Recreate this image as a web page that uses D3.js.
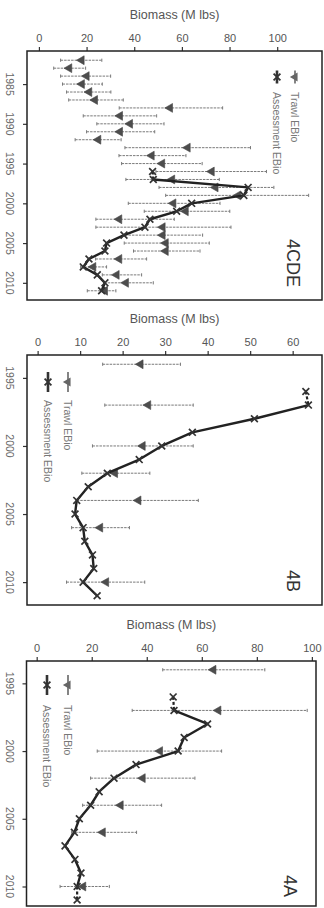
<!DOCTYPE html>
<html>
<head>
<meta charset="utf-8">
<script src="https://cdn.jsdelivr.net/npm/d3@7"></script>
<style>
  html, body { margin: 0; padding: 0; background: #fff; }
  svg { display: block; }
</style>
</head>
<body>
<script>
// ---- Area 4CDE ----
const cdeTrawlYears = [1982, 1983, 1984, 1985, 1986, 1987, 1988, 1989, 1990, 1991, 1992, 1993, 1994, 1995, 1996,
                       1997, 1998, 1999, 2000, 2001, 2002, 2003, 2004, 2005, 2006, 2007, 2008, 2009, 2010, 2011];
const cdeTrawlEst  = [17.9, 12.7, 20.0, 18.0, 21.1, 23.5, 55.0, 34.0, 38.2, 34.0, 24.9, 62.4, 47.3, 51.7, 72.5,
                      55.9, 74.1, 83.6, 56.4, 61.6, 33.7, 51.9, 51.9, 53.2, 53.2, 33.7, 22.8, 32.6, 36.5, 27.7];
const cdeTrawlLow  = [9.1, 6.2, 9.1, 9.9, 11.6, 12.5, 33.7, 18.6, 24.3, 20.0, 15.2, 36.1, 33.6, 34.7, 49.1,
                      36.5, 50.4, 53.2, 37.5, 44.2, 23.9, 23.9, 36.1, 35.8, 39.7, 23.8, 17.5, 26.6, 27.4, 20.3];
const cdeTrawlHigh = [26.4, 19.6, 30.1, 26.6, 30.2, 35.4, 77.1, 49.4, 52.5, 48.6, 34.5, 88.8, 61.7, 68.5, 95.5,
                      75.7, 98.6, 113.2, 76.0, 80.1, 56.8, 80.6, 68.7, 71.5, 67.6, 45.2, 28.4, 43.1, 48.0, 32.3];
const cdeAssessYears = [1996, 1997, 1998, 1999, 2000, 2001, 2002, 2003, 2004, 2005, 2006, 2007, 2008, 2009, 2010, 2011];
const cdeAssessEst   = [47.7, 48.0, 87.8, 86.0, 64.1, 57.8, 46.6, 44.5, 35.7, 28.4, 27.7, 21.0, 18.6, 24.5, 27.7, 26.3];

// ---- Area 4B ----
const bTrawlYears = [1994, 1997, 2000, 2002, 2004, 2006, 2010];
const bTrawlEst   = [24.2, 26.0, 24.7, 18.2, 23.7, 14.7, 16.1];
const bTrawlLow   = [15.3, 15.8, 12.9, 10.4, 9.2, 8.0, 6.8];
const bTrawlHigh  = [33.6, 36.6, 36.6, 26.4, 37.8, 21.6, 25.2];
const bAssessYears = [1996, 1997, 1998, 1999, 2000, 2001, 2002, 2003, 2004, 2005, 2006, 2007, 2008, 2009, 2010, 2011];
const bAssessEst   = [63.1, 63.7, 51.0, 36.4, 29.2, 23.9, 16.4, 11.9, 9.2, 8.8, 10.7, 11.1, 12.9, 13.2, 10.7, 14.0];

// ---- Area 4A ----
const aTrawlYears = [1994, 1997, 2000, 2002, 2004, 2006, 2010];
const aTrawlEst   = [64.2, 66.0, 44.8, 38.5, 30.5, 24.0, 16.9];
const aTrawlLow   = [45.8, 34.7, 22.0, 19.6, 16.7, 12.7, 8.5];
const aTrawlHigh  = [82.9, 98.3, 67.2, 57.5, 45.4, 36.3, 26.4];
const aAssessYears = [1996, 1997, 1998, 1999, 2000, 2001, 2002, 2003, 2004, 2005, 2006, 2007, 2008, 2009, 2010, 2011];
const aAssessEst   = [49.6, 49.9, 62.1, 53.6, 51.4, 36.1, 28.1, 22.7, 19.6, 15.5, 13.7, 10.3, 13.9, 16.1, 14.7, 14.7];

// ---- Axis ticks and labels ----
const cdeBiomassTicks = [0, 20, 40, 60, 80, 100];
const bBiomassTicks   = [0, 10, 20, 30, 40, 50, 60];
const aBiomassTicks   = [0, 20, 40, 60, 80, 100];
const cdeYearTicks = [1985, 1990, 1995, 2000, 2005, 2010];
const bYearTicks   = [1995, 2000, 2005, 2010];
const aYearTicks   = [1995, 2000, 2005, 2010];
const panelNames = ["4CDE", "4B", "4A"];
const axisTitle = "Biomass (M lbs)";
const legendNames = ["Trawl EBio", "Assessment EBio"];

const W = 324, H = 908;
const FONT = "'Liberation Sans', Arial, Helvetica, sans-serif";

const panels = [
  {
    name: panelNames[0],
    frame: { x0: 27, x1: 322, y0: 51, y1: 300 },
    xDomain: [-5, 118.8], yDomain: [1980.84, 2012.16],
    xTicks: cdeBiomassTicks, yTicks: cdeYearTicks,
    trawl: { years: cdeTrawlYears, est: cdeTrawlEst, low: cdeTrawlLow, high: cdeTrawlHigh },
    assess: { years: cdeAssessYears, est: cdeAssessEst },
    legend: { xTrawl: 295, xAssess: 277, cy: 77, len: 13, textY: 92 },
    label: { x: 293, y: 263 },
    dashLast: false
  },
  {
    name: panelNames[1],
    frame: { x0: 27, x1: 322, y0: 355, y1: 605 },
    xDomain: [-2.5, 66.9], yDomain: [1993.32, 2011.68],
    xTicks: bBiomassTicks, yTicks: bYearTicks,
    trawl: { years: bTrawlYears, est: bTrawlEst, low: bTrawlLow, high: bTrawlHigh },
    assess: { years: bAssessYears, est: bAssessEst },
    legend: { xTrawl: 68, xAssess: 48, cy: 382, len: 20, textY: 400 },
    label: { x: 293, y: 581 },
    dashLast: false
  },
  {
    name: panelNames[2],
    frame: { x0: 26.5, x1: 316, y0: 661, y1: 906 },
    xDomain: [-3.7, 101.5], yDomain: [1993.35, 2011.44],
    xTicks: aBiomassTicks, yTicks: aYearTicks,
    trawl: { years: aTrawlYears, est: aTrawlEst, low: aTrawlLow, high: aTrawlHigh },
    assess: { years: aAssessYears, est: aAssessEst },
    legend: { xTrawl: 68, xAssess: 47, cy: 685, len: 20, textY: 705 },
    label: { x: 290, y: 886 },
    dashLast: true
  }
];

const svg = d3.select("body").append("svg")
  .attr("width", W).attr("height", H)
  .attr("viewBox", `0 0 ${W} ${H}`);

svg.append("rect").attr("width", W).attr("height", H).attr("fill", "#fff");

const triangle = d3.symbol().type(d3.symbolTriangle).size(34);
const cross = d3.symbol().type(d3.symbolX).size(32);

panels.forEach(p => {
  const f = p.frame;
  const x = d3.scaleLinear().domain(p.xDomain).range([f.x0, f.x1]);
  const y = d3.scaleLinear().domain(p.yDomain).range([f.y0, f.y1]);
  const g = svg.append("g");

  // Biomass axis along the top
  const xAxis = d3.axisTop(x).tickValues(p.xTicks).tickSize(4).tickPadding(5).tickFormat(d3.format("d"));
  const gx = g.append("g").attr("transform", `translate(0,${f.y0})`).call(xAxis);
  gx.select(".domain").remove();
  gx.selectAll(".tick line").attr("stroke", "#333").attr("stroke-width", 1.2);
  gx.selectAll(".tick text")
    .attr("font-family", FONT).attr("font-size", 11).attr("fill", "#555");

  g.append("text")
    .attr("x", (f.x0 + f.x1) / 2).attr("y", f.y0 - 36)
    .attr("text-anchor", "middle").attr("dominant-baseline", "central")
    .attr("font-family", FONT).attr("font-size", 12.5).attr("fill", "#555")
    .text(axisTitle);

  // Year axis along the left, labels running downward
  const yAxis = d3.axisLeft(y).tickValues(p.yTicks).tickSize(4).tickFormat("");
  const gy = g.append("g").attr("transform", `translate(${f.x0},0)`).call(yAxis);
  gy.select(".domain").remove();
  gy.selectAll(".tick line").attr("stroke", "#333").attr("stroke-width", 1.2);
  g.selectAll("text.year").data(p.yTicks).join("text")
    .attr("class", "year")
    .attr("transform", d => `translate(10,${y(d)}) rotate(90)`)
    .attr("text-anchor", "middle").attr("dominant-baseline", "central")
    .attr("font-family", FONT).attr("font-size", 10.5).attr("fill", "#666")
    .text(d => d);

  // Trawl survey estimates with intervals
  const t = p.trawl;
  const rows = t.years.map((yr, i) => ({ yr, est: t.est[i], low: t.low[i], high: t.high[i] }));
  const eb = g.append("g").attr("stroke", "#7a7a7a").attr("stroke-width", 1);
  eb.selectAll("line.bar").data(rows).join("line")
    .attr("class", "bar")
    .attr("x1", d => x(d.low)).attr("x2", d => x(d.high))
    .attr("y1", d => y(d.yr)).attr("y2", d => y(d.yr))
    .attr("stroke-dasharray", "2.5,1");
  eb.selectAll("line.capL").data(rows).join("line")
    .attr("class", "capL")
    .attr("x1", d => x(d.low)).attr("x2", d => x(d.low))
    .attr("y1", d => y(d.yr) - 1.6).attr("y2", d => y(d.yr) + 1.6);
  eb.selectAll("line.capR").data(rows).join("line")
    .attr("class", "capR")
    .attr("x1", d => x(d.high)).attr("x2", d => x(d.high))
    .attr("y1", d => y(d.yr) - 1.6).attr("y2", d => y(d.yr) + 1.6);
  g.selectAll("path.tri").data(rows).join("path")
    .attr("class", "tri")
    .attr("d", triangle)
    .attr("transform", d => `translate(${x(d.est)},${y(d.yr)}) rotate(-90)`)
    .attr("fill", "#4d4d4d").attr("stroke", "#444").attr("stroke-width", 0.6);

  // Assessment estimates
  const a = p.assess;
  const pts = a.years.map((yr, i) => ({ yr, est: a.est[i] }));
  const line = d3.line().x(d => x(d.est)).y(d => y(d.yr));
  const last = p.dashLast ? pts.length - 1 : pts.length;
  g.append("path").datum(pts.slice(1, last))
    .attr("d", line).attr("fill", "none")
    .attr("stroke", "#222").attr("stroke-width", 2.4).attr("stroke-linejoin", "round");
  g.append("path").datum(pts.slice(0, 2))
    .attr("d", line).attr("fill", "none")
    .attr("stroke", "#222").attr("stroke-width", 2.2).attr("stroke-dasharray", "3,2");
  if (p.dashLast) {
    g.append("path").datum(pts.slice(pts.length - 2))
      .attr("d", line).attr("fill", "none")
      .attr("stroke", "#222").attr("stroke-width", 2.2).attr("stroke-dasharray", "3,2");
  }
  g.selectAll("path.cross").data(pts).join("path")
    .attr("class", "cross")
    .attr("d", cross)
    .attr("transform", d => `translate(${x(d.est)},${y(d.yr)})`)
    .attr("fill", "none").attr("stroke", "#333").attr("stroke-width", 1.7);

  // Legend
  const L = p.legend;
  g.append("line")
    .attr("x1", L.xTrawl).attr("x2", L.xTrawl)
    .attr("y1", L.cy - L.len / 2).attr("y2", L.cy + L.len / 2)
    .attr("stroke", "#666").attr("stroke-width", 1.6);
  g.append("path").attr("d", triangle)
    .attr("transform", `translate(${L.xTrawl},${L.cy}) rotate(-90)`)
    .attr("fill", "#666");
  g.append("line")
    .attr("x1", L.xAssess).attr("x2", L.xAssess)
    .attr("y1", L.cy - L.len / 2).attr("y2", L.cy + L.len / 2)
    .attr("stroke", "#333").attr("stroke-width", 2.6);
  g.append("path").attr("d", cross)
    .attr("transform", `translate(${L.xAssess},${L.cy})`)
    .attr("fill", "none").attr("stroke", "#333").attr("stroke-width", 1.8);
  [[L.xTrawl, legendNames[0]], [L.xAssess, legendNames[1]]].forEach(([lx, txt]) => {
    g.append("text")
      .attr("transform", `translate(${lx},${L.textY}) rotate(90)`)
      .attr("text-anchor", "start").attr("dominant-baseline", "central")
      .attr("font-family", FONT).attr("font-size", 10.5).attr("fill", "#777")
      .text(txt);
  });

  // Area label
  g.append("text")
    .attr("transform", `translate(${p.label.x},${p.label.y}) rotate(90)`)
    .attr("text-anchor", "middle").attr("dominant-baseline", "central")
    .attr("font-family", FONT).attr("font-size", 18).attr("fill", "#333")
    .text(p.name);

  // Plot frame
  g.append("rect")
    .attr("x", f.x0).attr("y", f.y0)
    .attr("width", f.x1 - f.x0).attr("height", f.y1 - f.y0)
    .attr("fill", "none").attr("stroke", "#222").attr("stroke-width", 1.5);
});
</script>
</body>
</html>
